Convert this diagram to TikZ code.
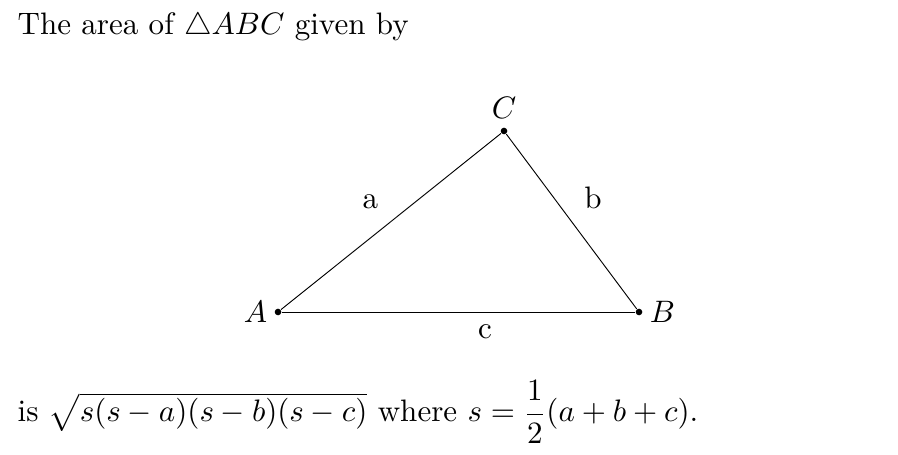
\documentclass[tikz,border=0pt]{standalone}
\usepackage{amsmath,amssymb}
\usetikzlibrary{positioning}

\begin{document}
\begin{tikzpicture}[
  x=0.01132cm, y=0.01132cm,
  vertex/.style={circle, fill=black, inner sep=0pt, minimum size=0.075cm},
  side/.style={line width=0.3pt, black},
  sidelabel/.style={font=\normalsize, inner sep=4pt}
]
  \useasboundingbox (0,0) rectangle (898,454);

  \node[anchor=base west, inner sep=0pt] (title) at (17,419) {The area of $\triangle ABC$ given by};

  \node[vertex, label={[inner sep=2pt]left:$A$}]  (A) at (278,142) {};
  \node[vertex, label={[inner sep=2pt]right:$B$}] (B) at (639,142) {};
  \node[vertex, label={[inner sep=2.5pt]above:$C$}] (C) at (504,323) {};

  \draw[side] (A) -- (C) node[midway, above left, sidelabel] {a};
  \draw[side] (C) -- (B) node[midway, above right, sidelabel] {b};
  \draw[side] (A) -- (B) node[pos=0.575, below, sidelabel] {c};

  \node[anchor=base west, inner sep=0pt] (formula) at (17,32)
    {is $\sqrt{s(s-a)(s-b)(s-c)}$ where $s=\dfrac{1}{2}(a+b+c)$.};
\end{tikzpicture}
\end{document}
